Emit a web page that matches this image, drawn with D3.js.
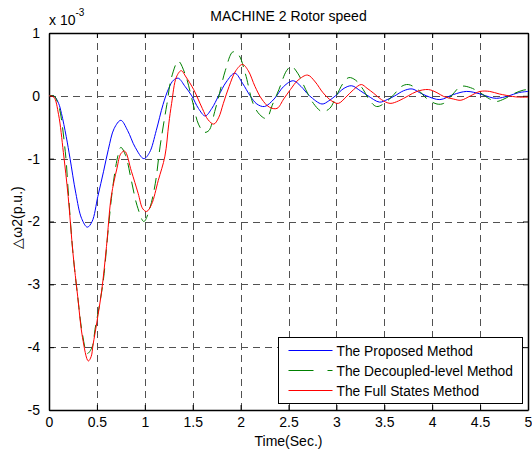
<!DOCTYPE html>
<html>
<head>
<meta charset="utf-8">
<script src="https://cdn.jsdelivr.net/npm/d3@7"></script>
<style>
  body { margin: 0; background: #fff; }
  svg { font-family: "Liberation Sans", Arial, sans-serif; }
</style>
</head>
<body>
<div id="chart"></div>
<script>
// values are in units of 1e-3 p.u.
const proposedT = [0,0.05,0.1,0.13,0.18,0.22,0.28,0.34,0.40,0.45,0.51,0.57,0.62,0.68,0.75,0.82,0.9,0.99,1.05,1.12,1.19,1.25,1.3,1.35,1.42,1.49,1.56,1.63,1.7,1.77,1.85,1.94,2.02,2.1,2.17,2.25,2.35,2.45,2.55,2.63,2.72,2.85,2.92,2.99,3.08,3.16,3.25,3.33,3.45,3.53,3.61,3.7,3.79,3.87,3.94,4.08,4.22,4.36,4.5,4.6,4.67,4.8,4.9,5.0];
const proposedV = [0,0,-0.12,-0.28,-0.65,-1.0,-1.55,-1.95,-2.09,-2.0,-1.6,-1.2,-0.85,-0.52,-0.39,-0.55,-0.82,-1.0,-0.9,-0.55,-0.14,0.12,0.25,0.28,0.15,0,-0.2,-0.32,-0.2,0,0.22,0.36,0.2,0,-0.13,-0.17,-0.05,0.15,0.24,0.15,0,-0.13,-0.08,0,0.12,0.16,0.08,0,-0.1,-0.06,0,0.08,0.11,0.05,0,-0.06,0.02,0.07,0.03,-0.02,-0.04,0,0.05,0.07];

const decoupledT = [0,0.05,0.1,0.17,0.2,0.25,0.3,0.35,0.4,0.45,0.48,0.53,0.57,0.62,0.67,0.72,0.75,0.8,0.86,0.92,0.99,1.05,1.11,1.16,1.23,1.28,1.35,1.42,1.5,1.56,1.62,1.67,1.73,1.78,1.84,1.92,1.98,2.05,2.13,2.2,2.27,2.33,2.4,2.48,2.53,2.6,2.68,2.76,2.85,2.93,3.0,3.07,3.13,3.2,3.28,3.35,3.42,3.5,3.6,3.68,3.75,3.85,3.94,4.05,4.12,4.2,4.3,4.4,4.5,4.6,4.67,4.75,4.86,4.95,5.0];
const decoupledV = [0,0,-0.15,-0.89,-1.5,-2.5,-3.2,-3.8,-4.1,-4.0,-3.72,-3.3,-2.9,-2.1,-1.4,-0.95,-0.82,-0.95,-1.35,-1.75,-2.0,-1.8,-1.39,-0.8,-0.14,0.3,0.55,0.35,-0.1,-0.45,-0.58,-0.55,-0.25,0.04,0.4,0.7,0.65,0.35,-0.12,-0.3,-0.36,-0.15,0.1,0.4,0.47,0.35,0.1,-0.12,-0.25,-0.2,0,0.2,0.29,0.25,0.1,-0.08,-0.17,-0.12,0.02,0.15,0.18,0.1,-0.04,-0.13,-0.12,0,0.15,0.13,0.05,-0.05,-0.09,-0.05,0.04,0.09,0.1];

const fullT = [0,0.05,0.1,0.15,0.2,0.25,0.3,0.35,0.41,0.44,0.46,0.5,0.55,0.6,0.65,0.71,0.75,0.79,0.86,0.93,0.98,1.02,1.07,1.14,1.21,1.25,1.28,1.33,1.38,1.43,1.51,1.6,1.66,1.72,1.77,1.82,1.88,1.95,2.02,2.08,2.15,2.22,2.3,2.38,2.45,2.52,2.6,2.7,2.78,2.86,2.95,3.02,3.1,3.18,3.26,3.32,3.39,3.47,3.56,3.65,3.75,3.84,3.96,4.05,4.12,4.22,4.3,4.4,4.5,4.6,4.7,4.84,4.9,5.0];
const fullV = [0,-0.02,-0.3,-0.9,-1.6,-2.5,-3.2,-3.85,-4.22,-4.15,-3.96,-3.6,-3.1,-2.4,-1.6,-1.15,-0.92,-0.88,-1.2,-1.55,-1.8,-1.84,-1.73,-1.35,-0.96,-0.45,-0.12,0.3,0.4,0.3,0.1,-0.2,-0.38,-0.45,-0.35,-0.12,0.15,0.4,0.5,0.4,0.15,-0.05,-0.18,-0.2,-0.05,0.1,0.25,0.33,0.22,0.05,-0.08,-0.12,-0.02,0.1,0.18,0.12,0.04,-0.06,-0.12,-0.08,0,0.07,0.1,0.05,-0.01,-0.05,-0.07,0,0.07,0.07,0.03,-0.01,-0.02,-0.02];

const xTicks = [0,0.5,1,1.5,2,2.5,3,3.5,4,4.5,5];
const xTickLabels = ["0","0.5","1","1.5","2","2.5","3","3.5","4","4.5","5"];
const yTicks = [1,0,-1,-2,-3,-4,-5];
const yTickLabels = ["1","0","-1","-2","-3","-4","-5"];

const seriesNames = ["The Proposed Method","The Decoupled-level Method","The Full States Method"];
const seriesColors = ["#0000ff","#008000","#ff0000"];

const W = 532, H = 451;
const mLeft = 49, mRight = 528, mTop = 33, mBottom = 410;

const svg = d3.select("#chart").append("svg")
  .attr("width", W).attr("height", H);

const x = d3.scaleLinear().domain([0,5]).range([mLeft,mRight]);
const y = d3.scaleLinear().domain([-5,1]).range([mBottom,mTop]);

// grid
const grid = svg.append("g")
  .attr("stroke", "#333").attr("stroke-width", 1)
  .attr("stroke-dasharray", "7,5").attr("opacity", 0.85);
grid.selectAll(".gx").data(xTicks.slice(1,-1)).enter().append("line")
  .attr("x1", d => Math.round(x(d))+0.5).attr("x2", d => Math.round(x(d))+0.5)
  .attr("y1", mBottom).attr("y2", mTop);
grid.selectAll(".gy").data(yTicks.slice(1,-1)).enter().append("line")
  .attr("y1", d => Math.round(y(d))+0.5).attr("y2", d => Math.round(y(d))+0.5)
  .attr("x1", mLeft).attr("x2", mRight);

// axes (ticks inside, box all round)
const xAxis = d3.axisBottom(x).tickValues(xTicks).tickSizeInner(-5).tickSizeOuter(0)
  .tickFormat((d,i) => xTickLabels[i]).tickPadding(7);
const yAxis = d3.axisLeft(y).tickValues(yTicks).tickSizeInner(-5).tickSizeOuter(0)
  .tickFormat((d,i) => yTickLabels[i]).tickPadding(9);

svg.append("g").attr("transform", `translate(0,${mBottom})`).call(xAxis);
svg.append("g").attr("transform", `translate(${mLeft},0)`).call(yAxis);
svg.append("g").attr("transform", `translate(0,${mTop})`)
  .call(d3.axisTop(x).tickValues(xTicks).tickSizeInner(-5).tickSizeOuter(0).tickFormat(""));
svg.append("g").attr("transform", `translate(${mRight},0)`)
  .call(d3.axisRight(y).tickValues(yTicks).tickSizeInner(-5).tickSizeOuter(0).tickFormat(""));

svg.selectAll(".domain").attr("stroke", "#000").attr("stroke-width", 1.5);
svg.selectAll(".tick line").attr("stroke", "#000");
svg.selectAll(".tick text").attr("font-size", 14).attr("fill", "#000")
  .attr("font-family", "Liberation Sans, Arial, sans-serif");

// lines
const line = d3.line().x(d => x(d[0])).y(d => y(d[1])).curve(d3.curveCatmullRom);
const plot = svg.append("g");
const datasets = [
  d3.zip(proposedT, proposedV),
  d3.zip(decoupledT, decoupledV),
  d3.zip(fullT, fullV)
];
const dashes = [null, "12,7", null];
[0,1,2].forEach(i => {
  plot.append("path").datum(datasets[i])
    .attr("fill", "none").attr("stroke", seriesColors[i]).attr("stroke-width", 1)
    .attr("stroke-dasharray", dashes[i])
    .attr("d", line);
});

// title and labels
svg.append("text").attr("x", (mLeft+mRight)/2).attr("y", 21)
  .attr("text-anchor", "middle").attr("font-size", 14).text("MACHINE 2 Rotor speed");
svg.append("text").attr("x", (mLeft+mRight)/2).attr("y", 446)
  .attr("text-anchor", "middle").attr("font-size", 14).text("Time(Sec.)");
svg.append("text").attr("transform", `translate(22,${(mTop+mBottom)/2 - 4}) rotate(-90)`)
  .attr("text-anchor", "middle").attr("font-size", 14).text("△ω2(p.u.)");
const ex = svg.append("text").attr("x", 49).attr("y", 25).attr("font-size", 14);
ex.append("tspan").text("x 10");
ex.append("tspan").attr("dy", -9).attr("font-size", 10).text("-3");

// legend
const lg = svg.append("g").attr("transform", "translate(278.5,337.5)");
lg.append("rect").attr("width", 244).attr("height", 66)
  .attr("fill", "#fff").attr("stroke", "#000").attr("stroke-width", 1);
seriesNames.forEach((n, i) => {
  const yy = 13 + i * 20;
  lg.append("line").attr("x1", 10).attr("x2", 54).attr("y1", yy).attr("y2", yy)
    .attr("stroke", seriesColors[i]).attr("stroke-width", 1)
    .attr("stroke-dasharray", i === 1 ? "25,14" : null);
  lg.append("text").attr("x", 58).attr("y", yy + 5).attr("font-size", 13.8).text(n);
});
</script>
</body>
</html>
